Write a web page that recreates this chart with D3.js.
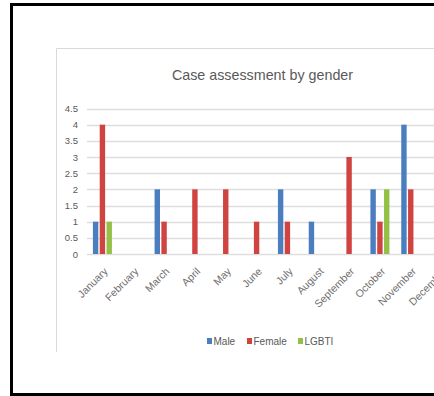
<!DOCTYPE html>
<html><head><meta charset="utf-8">
<script src="https://cdn.jsdelivr.net/npm/d3@7/dist/d3.min.js"></script>
<style>body{margin:0;background:#fff}svg{display:block}</style>
</head><body>
<svg id="c" width="434" height="396"></svg>
<script>
const months = ["January","February","March","April","May","June","July","August","September","October","November","December"];
const male   = [1,0,2,0,0,0,2,1,0,2,4,0];
const female = [4,0,1,2,2,1,1,0,3,1,2,0];
const lgbti  = [1,0,0,0,0,0,0,0,0,2,0,0];
const seriesNames = ["Male","Female","LGBTI"];
const seriesColors = ["#4A7EBF","#CF4341","#94C047"];
const yTicks = [0,0.5,1,1.5,2,2.5,3,3.5,4,4.5];
const title = "Case assessment by gender";

const font = "'Liberation Sans',Arial,sans-serif";
const svg = d3.select("#c");

// outer frame
svg.append("rect").attr("x",11.5).attr("y",4.5).attr("width",440).attr("height",390)
  .attr("fill","#fff").attr("stroke","#000").attr("stroke-width",3);
// inner chart area border
svg.append("path").attr("d","M56.5,352V48.5H440").attr("fill","none").attr("stroke","#d9d9d9").attr("stroke-width",1);

svg.append("text").attr("x",262.5).attr("y",80).attr("text-anchor","middle")
  .attr("font-family",font).attr("font-size",14.3).attr("fill","#595959").text(title);

const x = d3.scaleBand().domain(months).range([87,457]).padding(0);
const y = d3.scaleLinear().domain([0,4.5]).range([254,108.5]);

// gridlines
svg.append("g").selectAll("line").data(yTicks).join("line")
  .attr("x1",87).attr("x2",440).attr("y1",d=>Math.round(y(d))+0.5).attr("y2",d=>Math.round(y(d))+0.5)
  .attr("stroke","#dedede").attr("stroke-width",1.5);

// y axis labels
const yAxis = d3.axisLeft(y).tickValues(yTicks).tickSize(0).tickPadding(0).tickFormat(d=>String(d));
const ga = svg.append("g").attr("transform","translate(78,0)").call(yAxis);
ga.select(".domain").remove();
ga.selectAll("text").attr("font-family",font).attr("font-size",9.5).attr("fill","#595959");

// x axis labels
const xAxis = d3.axisBottom(x).tickSize(0).tickPadding(0);
const gx = svg.append("g").attr("transform","translate(0,254)").call(xAxis);
gx.select(".domain").remove();
gx.selectAll("text").attr("font-family",font).attr("font-size",10.5).attr("fill","#6f6f6f")
  .attr("text-anchor","end").attr("dy",0).attr("transform","translate(6,18) rotate(-45)");

// bars
const data = [male,female,lgbti];
const barW = 5.4, off = 6.8;
data.forEach((vals,si)=>{
  svg.append("g").selectAll("rect").data(vals.map((v,i)=>({m:months[i],v}))).join("rect")
    .filter(d=>d.v>0)
    .attr("x",d=>x(d.m)+x.bandwidth()/2+(si-1)*off-barW/2)
    .attr("width",barW)
    .attr("y",d=>y(d.v))
    .attr("height",d=>y(0)-y(d.v))
    .attr("fill",seriesColors[si]);
});

// legend
const legX = [207,247,298];
const lg = svg.append("g");
seriesNames.forEach((n,i)=>{
  lg.append("rect").attr("x",legX[i]).attr("y",338).attr("width",5).attr("height",6).attr("fill",seriesColors[i]);
  lg.append("text").attr("x",legX[i]+6.5).attr("y",345).attr("font-family",font).attr("font-size",10)
    .attr("fill","#595959").text(n);
});
</script>
</body></html>
